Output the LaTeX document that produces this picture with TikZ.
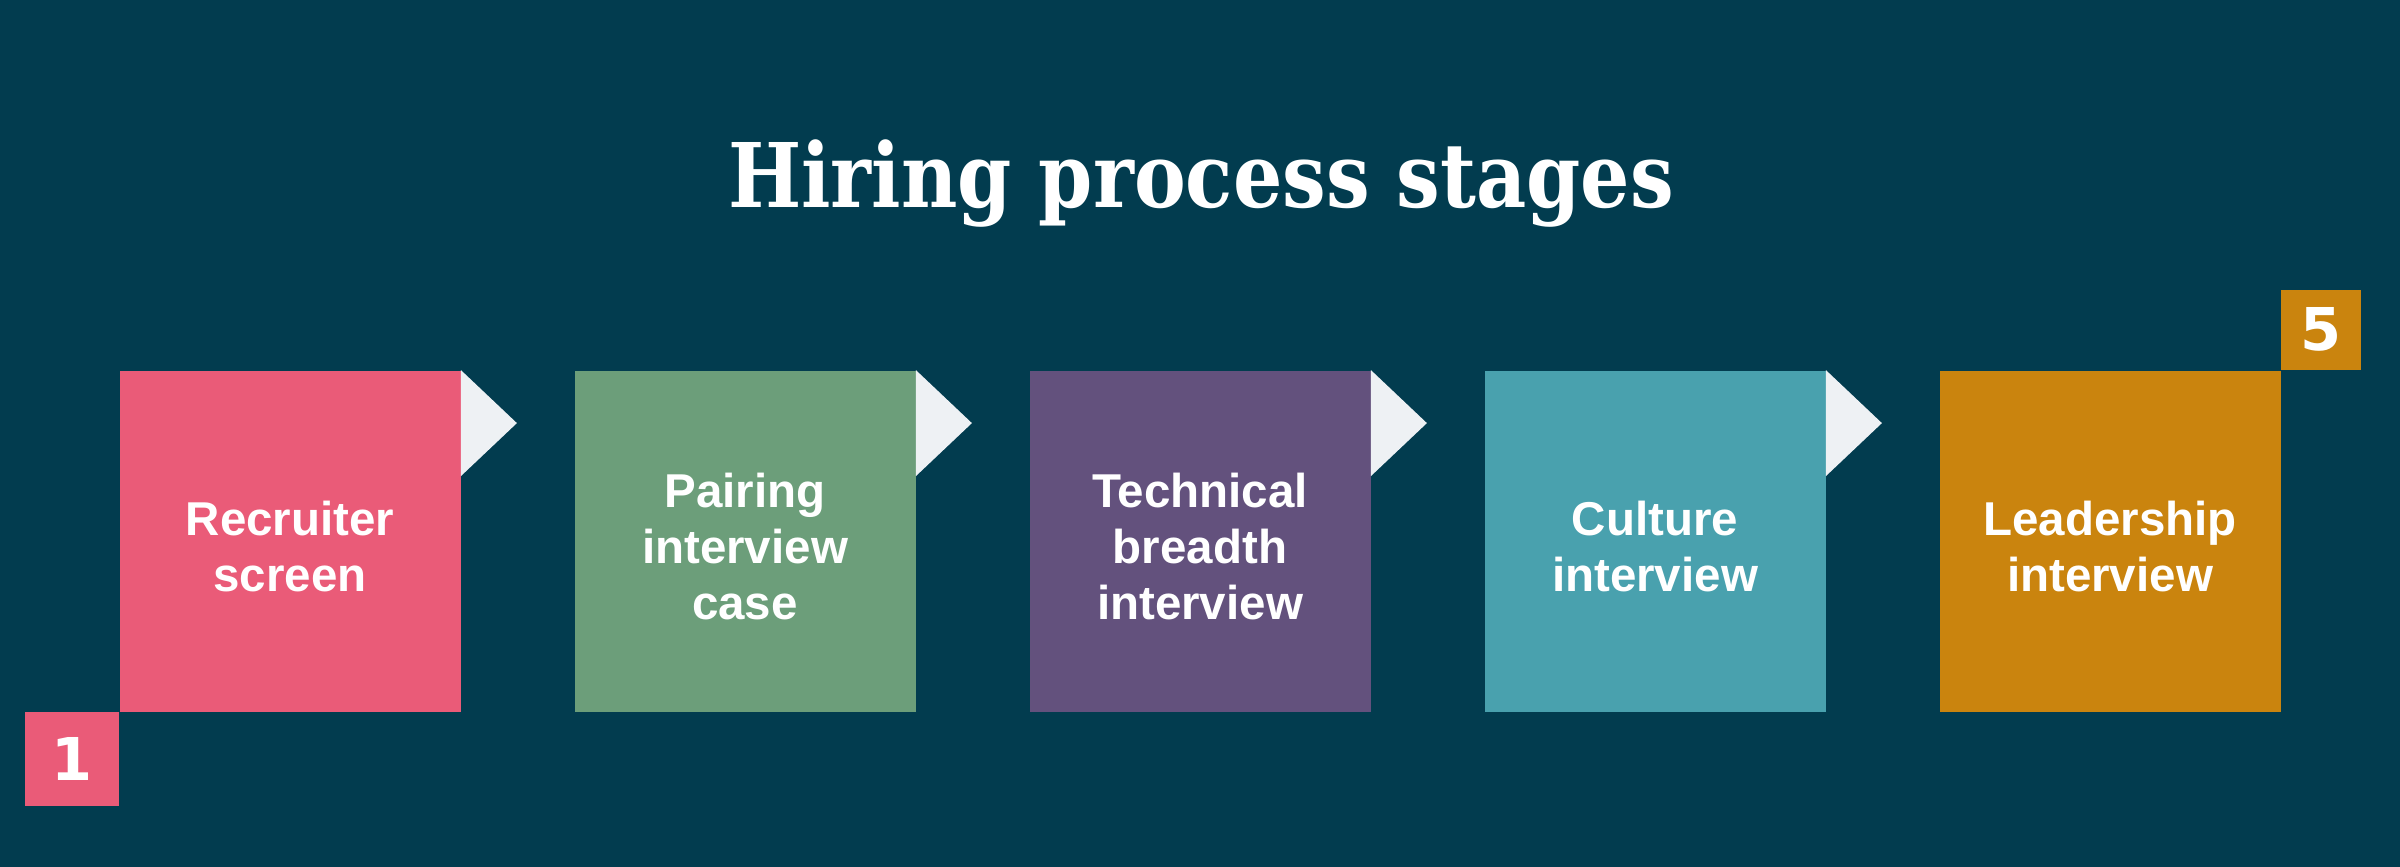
\documentclass[tikz,border=0pt]{standalone}
\usepackage{fontspec}
\setmainfont{Liberation Sans}
\newfontfamily\titlefont{DejaVu Serif}[FakeStretch=0.87]
\newfontfamily\numfont{DejaVu Sans}
\definecolor{backc}{HTML}{023C4F}
\definecolor{pinkc}{HTML}{EA5B78}
\definecolor{greenc}{HTML}{6C9E7A}
\definecolor{purplec}{HTML}{63517D}
\definecolor{tealc}{HTML}{49A1AE}
\definecolor{orangec}{HTML}{CA840E}
\definecolor{tabc}{HTML}{EEF1F4}

\begin{document}
\begin{tikzpicture}[x=0.5pt,y=-0.5pt,
  stage/.style={minimum width=170.5pt,minimum height=170.5pt,inner sep=0pt},
  stagetext/.style={text=white,align=center,inner sep=0pt,
    font=\bfseries\fontsize{23.75}{28}\selectfont},
  tab/.style={fill=tabc},
  badge/.style={inner sep=0pt,text=white,
    font=\numfont\bfseries\fontsize{29.5}{30}\selectfont}]

\fill[backc] (0,0) rectangle (2400,867);
\useasboundingbox (0,0) rectangle (2400,867);

\draw (1201,207) node[anchor=base,text=white,
  font=\titlefont\bfseries\fontsize{44.6}{50}\selectfont] (title) {Hiring process stages};

\draw (290,541) node[stage,fill=pinkc] (rs) {};
\draw (290,547) node[stagetext] (rs-t) {Recruiter\\screen};

\draw (745,541) node[stage,fill=greenc] (pi) {};
\draw (745,547) node[stagetext] (pi-t) {Pairing\\interview\\case};

\draw (1200,541) node[stage,fill=purplec] (tb) {};
\draw (1200,547) node[stagetext] (tb-t) {Technical\\breadth\\interview};

\draw (1655,541) node[stage,fill=tealc] (ci) {};
\draw (1655,547) node[stagetext] (ci-t) {Culture\\interview};

\draw (2110,541) node[stage,fill=orangec] (li) {};
\draw (2110,547) node[stagetext] (li-t) {Leadership\\interview};

\fill[tab] (rs.north east) -- ++(56,53) -- ++(-56,53) -- cycle;
\fill[tab] (pi.north east) -- ++(56,53) -- ++(-56,53) -- cycle;
\fill[tab] (tb.north east) -- ++(56,53) -- ++(-56,53) -- cycle;
\fill[tab] (ci.north east) -- ++(56,53) -- ++(-56,53) -- cycle;

\draw (rs.south west) node[badge,anchor=north east,minimum size=46.75pt,fill=pinkc] (n1) {1};
\draw (li.north east) node[badge,anchor=south west,minimum size=40pt,fill=orangec] (n5) {5};

\end{tikzpicture}
\end{document}
